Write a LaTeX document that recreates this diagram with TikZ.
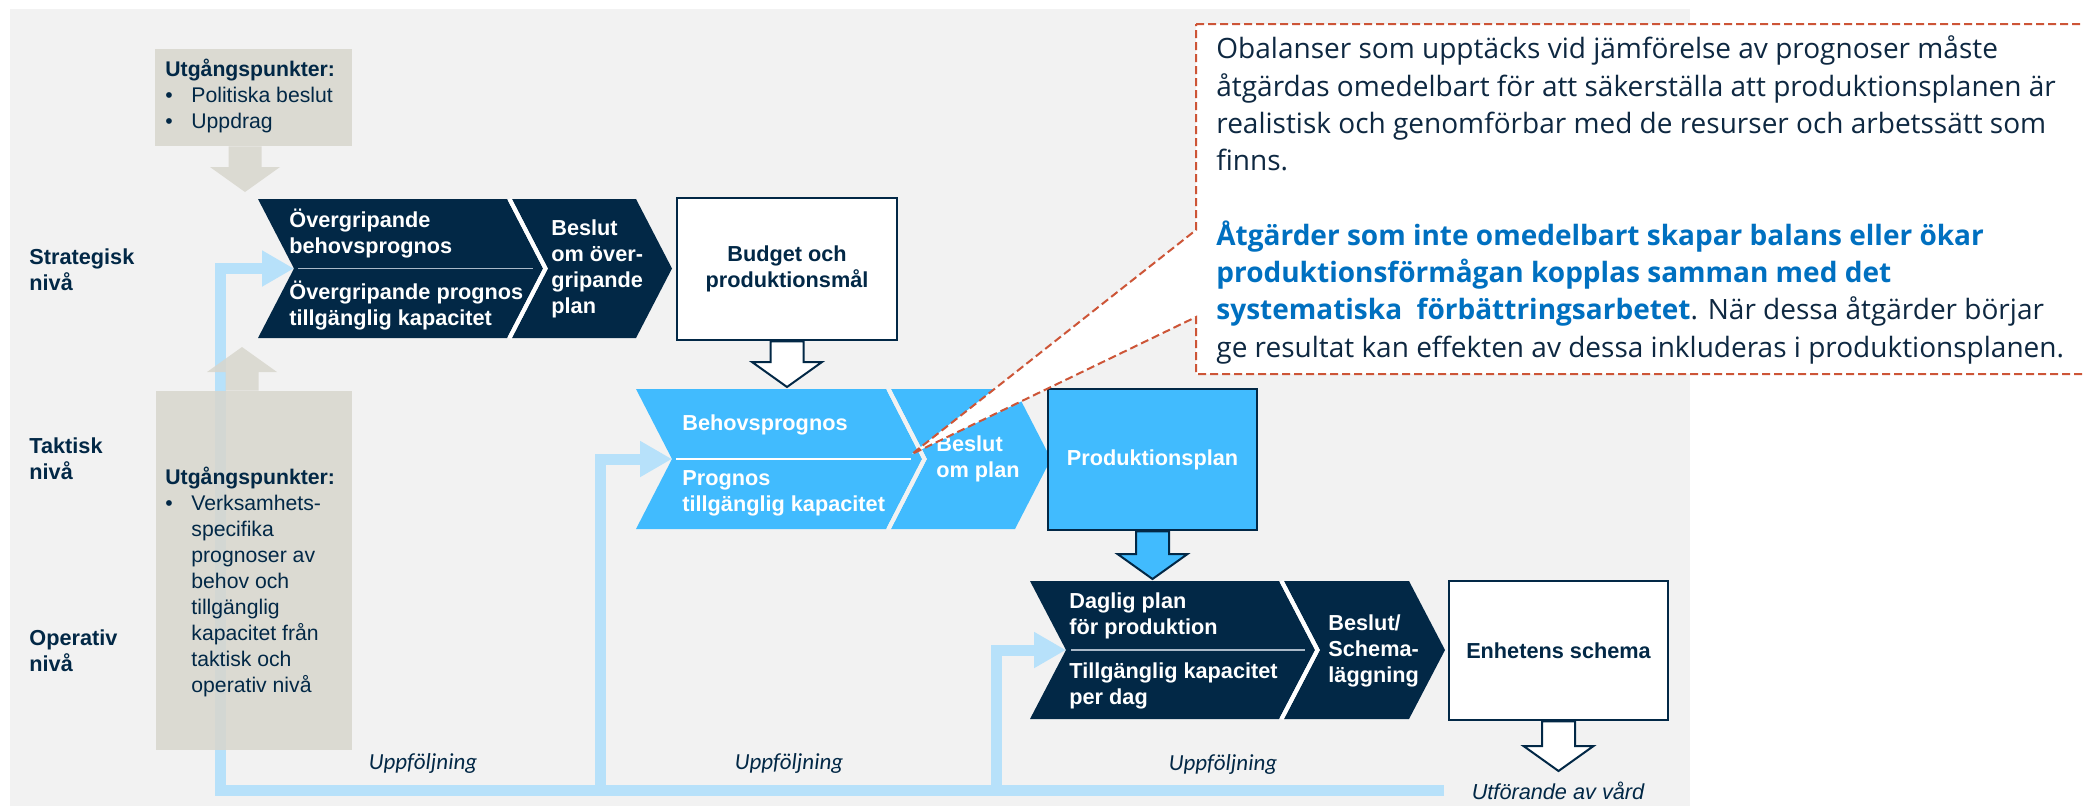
\documentclass[tikz,border=0pt]{standalone}
\usepackage{fontspec}
\setmainfont{Liberation Sans}
\newfontfamily\notefont{Open Sans}
\newfontfamily\calfont{Carlito}
\usetikzlibrary{calc,arrows.meta}
\definecolor{navy}{RGB}{2,40,70}
\definecolor{skyblue}{RGB}{65,187,254}
\definecolor{paleblue}{RGB}{183,225,250}
\definecolor{beige}{RGB}{216,214,205}
\definecolor{panel}{RGB}{242,242,242}
\definecolor{notered}{RGB}{205,85,55}
\definecolor{noteblue}{RGB}{0,112,192}
\definecolor{notetext}{RGB}{14,40,65}
\definecolor{rule}{RGB}{170,185,200}
% chevron: style, left, right, top, bottom
\newcommand{\chevronshape}[5]{%
  \fill[#1] (#2,#4) -- (#3,#4) -- ({#3+36},{(#4+#5)/2}) -- (#3,#5) -- (#2,#5) -- ({#2+36},{(#4+#5)/2}) -- cycle;}
% block arrow: style, from, tip
\newcommand{\blockarrow}[3]{%
  \path ($(#3)!12.5pt!(#2)$) coordinate (hb);
  \path[#1] ($(#2)!8.25pt!90:(#3)$) -- ($(hb)!8.25pt!90:(#3)$) -- ($(hb)!17.5pt!90:(#3)$) -- (#3)
    -- ($(hb)!17.5pt!-90:(#3)$) -- ($(hb)!8.25pt!-90:(#3)$) -- ($(#2)!8.25pt!-90:(#3)$) -- cycle;}

\begin{document}
\begin{tikzpicture}[x={(0.5pt,0pt)}, y={(0pt,-0.5pt)}, baseline=0cm,
  every node/.style={inner sep=0pt},
  txt/.style={align=left, anchor=west, text=white, font=\bfseries\fontsize{10.85}{13}\selectfont},
  lvl/.style={txt, text=navy},
  box/.style={draw=navy, line width=1.25pt, fill=white, align=center, text=navy, font=\bfseries\fontsize{10.85}{13}\selectfont},
  basis/.style={fill=beige, fill opacity=0.85, text opacity=1},
  divider/.style={draw=#1, line width=0.8pt},
  gap/.style={draw=white, line width=2pt},
  feedback/.style={draw=paleblue, line width=5.5pt, -{Triangle[length=16pt,width=17pt]}},
  follow/.style={text=navy, font=\calfont\itshape\fontsize{11.5}{13}\selectfont},
  note/.style={draw=notered, line width=1pt, dash pattern=on 4pt off 2pt, fill=white}]
  \useasboundingbox (0,0) rectangle (2083,810);
  \fill[panel] (10,9) rectangle (1690,806);

  % Coordinates
  \coordinate (StratIn) at (294,268.5);
  \coordinate (TaktIn) at (672,459);
  \coordinate (OperIn) at (1066,650);
  \coordinate (FollowEnd) at (1444,790);
  \coordinate (TopTip) at (245,192);
  \coordinate (UpTip) at (242,347);
  \coordinate (BudgetTip) at (787,387);
  \coordinate (PlanTip) at (1152.5,579);
  \coordinate (SchemaTip) at (1558.5,771);
  \coordinate (NoteTip) at (912,454);

  % Feedback
  \draw[feedback] (FollowEnd) -- (220,790) |- (StratIn);
  \draw[feedback] (600,790) |- (TaktIn);
  \draw[feedback] (996,790) |- (OperIn);

  % Level labels
  \node[lvl] (Strat) at (29,270) {Strategisk\\nivå};
  \node[lvl] (Takt) at (29,459) {Taktisk\\nivå};
  \node[lvl] (Oper) at (29,651) {Operativ\\nivå};

  % Starting points
  \node[basis, minimum width=98.5pt, minimum height=48.5pt] (TopBox) at (253.5,97.5) {};
  \node[basis, minimum width=98pt, minimum height=179.5pt] (LowBox) at (254,570.5) {};
  \node[lvl, font=\fontsize{10.6}{13}\selectfont] (TopText) at (165,98)
    {\textbf{Utgångspunkter:}\\\begin{tabular}[t]{@{}p{13pt}@{}l@{}}\textbullet & Politiska beslut\\ \textbullet & Uppdrag\end{tabular}};
  \node[lvl, font=\fontsize{10.6}{13}\selectfont] (LowText) at (165,584)
    {\textbf{Utgångspunkter:}\\\begin{tabular}[t]{@{}p{13pt}@{}l@{}}\textbullet & Verksamhets-\\ & specifika\\ & prognoser av\\ & behov och\\ & tillgänglig\\ & kapacitet från\\ & taktisk och\\ & operativ nivå\end{tabular}};
  \coordinate (TopFrom) at (TopBox.south -| TopTip);
  \coordinate (UpFrom) at (LowBox.north -| UpTip);
  \blockarrow{fill=beige, fill opacity=0.85}{TopFrom}{TopTip}
  \blockarrow{fill=beige, fill opacity=0.85}{UpFrom}{UpTip}

  % Strategic level
  \chevronshape{navy}{258}{507}{199}{338}
  \chevronshape{navy}{512}{636}{199}{338}
  \draw[gap] (509.5,199) -- (545.5,268.5) -- (509.5,338);
  \draw[divider=rule] (298,268.5) -- (533,268.5);
  \node[txt] (StratNeed) at (289,233.5) {Övergripande\\behovsprognos};
  \node[txt] (StratCap) at (289,305.5) {Övergripande prognos\\tillgänglig kapacitet};
  \node[txt] (StratDecision) at (551,269) {Beslut\\om över-\\gripande\\plan};
  \node[box, minimum width=110pt, minimum height=71pt] (Budget) at (787,269) {Budget och\\produktionsmål};

  % Tactical level
  \chevronshape{skyblue}{636}{886}{389}{529}
  \chevronshape{skyblue}{891}{1015}{389}{529}
  \draw[gap, draw=panel] (888.5,389) -- (924.5,459) -- (888.5,529);
  \draw[divider=white] (676,459) -- (911,459);
  \node[txt] (TaktNeed) at (682,425) {Behovsprognos};
  \node[txt] (TaktCap) at (682,493.5) {Prognos\\tillgänglig kapacitet};
  \node[txt] (TaktDecision) at (936,458.5) {Beslut\\om plan};
  \node[box, fill=skyblue, text=white, minimum width=104.5pt, minimum height=70.5pt] (Plan) at (1152.5,459.5) {Produktionsplan};

  % Operative level
  \chevronshape{navy}{1030}{1279}{581}{719}
  \chevronshape{navy}{1284}{1409}{581}{719}
  \draw[gap] (1281.5,581) -- (1317.5,650) -- (1281.5,719);
  \draw[divider=rule] (1071,650) -- (1305,650);
  \node[txt] (OperNeed) at (1069,616) {Daglig plan\\för produktion};
  \node[txt] (OperCap) at (1069,685.5) {Tillgänglig kapacitet\\per dag};
  \node[txt] (OperDecision) at (1328,651) {Beslut/\\Schema-\\läggning};
  \node[box, minimum width=109.5pt, minimum height=69.5pt] (Schema) at (1558.5,650.5) {Enhetens schema};

  % Edges
  \blockarrow{fill=white, draw=navy, line width=1pt}{Budget.south}{BudgetTip}
  \blockarrow{fill=skyblue, draw=navy, line width=1pt}{Plan.south}{PlanTip}
  \blockarrow{fill=white, draw=navy, line width=1pt}{Schema.south}{SchemaTip}

  % Labels
  \node[follow] (Follow1) at (423,763) {Uppföljning};
  \node[follow] (Follow2) at (789,763) {Uppföljning};
  \node[follow] (Follow3) at (1223,764) {Uppföljning};
  \node[text=navy, font=\itshape\fontsize{10.85}{13}\selectfont] (Care) at (1558,791) {Utförande av vård};

  % Callout
  \draw[note] (1196,24) -- (2100,24) -- (2100,374) -- (1196,374) -- (1196,317) -- (NoteTip) -- (1196,230) -- cycle;
  \node[align=left, anchor=west, text=notetext, font=\notefont\fontsize{14}{18.65}\selectfont] (Note) at (1216,200)
    {Obalanser som upptäcks vid jämförelse av prognoser måste\\
     åtgärdas omedelbart för att säkerställa att produktionsplanen är\\
     realistisk och genomförbar med de resurser och arbetssätt som\\
     finns.\\[18.65pt]
     {\bfseries\color{noteblue}Åtgärder som inte omedelbart skapar balans eller ökar}\\
     {\bfseries\color{noteblue}produktionsförmågan kopplas samman med det}\\
     {\bfseries\color{noteblue}systematiska\ \ förbättringsarbetet}. När dessa åtgärder börjar\\
     ge resultat kan effekten av dessa inkluderas i produktionsplanen.};
\end{tikzpicture}
\end{document}
